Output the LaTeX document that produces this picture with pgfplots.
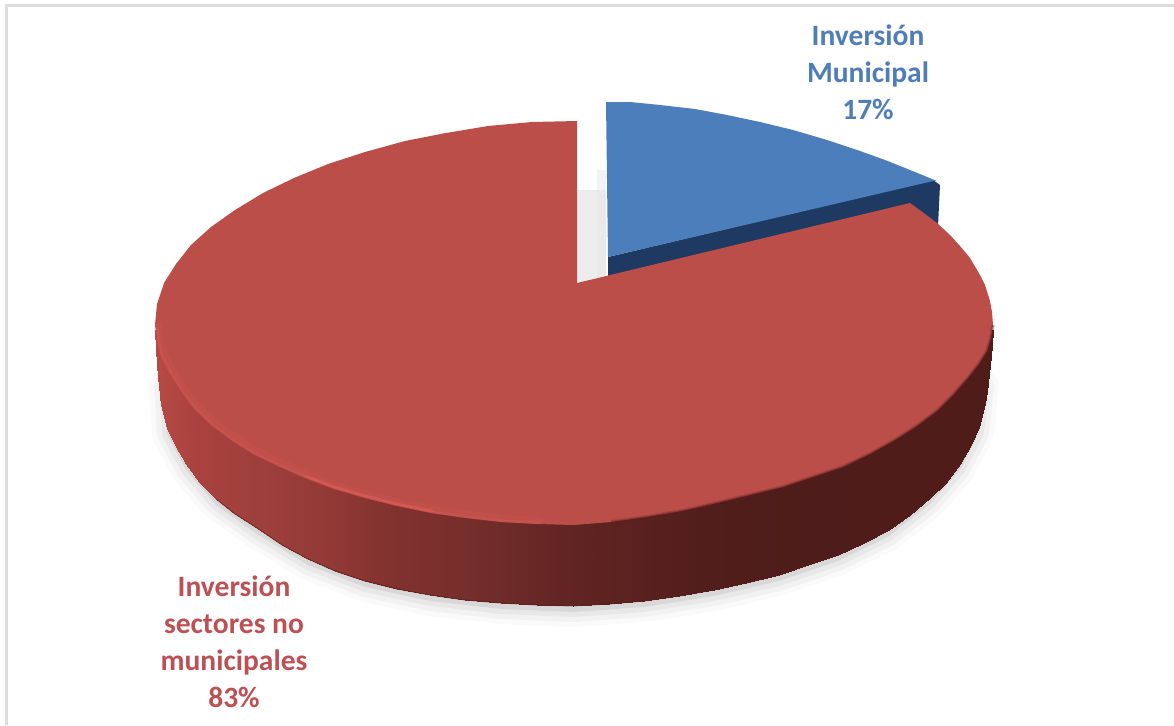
\documentclass[border=0pt]{standalone}
\usepackage{fontspec}
\setmainfont{Carlito}
\usepackage{pgfplots}
\pgfplotsset{compat=1.18}

\definecolor{redtop}{RGB}{188,78,73}
\definecolor{redtxt}{RGB}{190,80,84}
\definecolor{bluetop}{RGB}{76,126,187}
\definecolor{bluetxt}{RGB}{79,125,185}
\definecolor{blueside}{RGB}{31,58,98}
\definecolor{frame}{RGB}{221,221,221}
\definecolor{glow}{RGB}{232,98,92}
\definecolor{edgedark}{RGB}{90,30,28}

\pgfplotsset{colormap={wall}{
  rgb255(155pt)=(184,74,69) rgb255(197pt)=(168,66,62) rgb255(263pt)=(158,63,59)
  rgb255(330pt)=(146,57,54) rgb255(397pt)=(128,49,46) rgb255(463pt)=(118,47,44)
  rgb255(563pt)=(98,37,35) rgb255(700pt)=(82,30,28) rgb255(800pt)=(78,28,26)
  rgb255(993pt)=(80,28,26)}}

\begin{document}
\begin{tikzpicture}
\begin{axis}[
  scale only axis, width=1174pt, height=725pt,
  xmin=0, xmax=1174, ymin=0, ymax=725, y dir=reverse,
  hide axis, clip=true,
  point meta min=155, point meta max=993,
]

% keeps the whole axis area in the picture
\addplot[draw=none, forget plot] coordinates {(0,0)(1174,725)};

% frame, left and top only
\addplot[frame, line width=3pt, forget plot] coordinates {(6,725)(6,6)(1174,6)};

% soft shadow below the disc
\addplot[black!30, fill=black!30, opacity=0.07, line width=30pt, line join=round, shift={(0pt,-6pt)}] coordinates {(164,380)(167,428)(186,464)(216,499)(257,528)(308,559)(365,581)(430,595)(501,603)(573,606)(644,601)(714,590)(779,575)(838,555)(889,530)(930,498)(960,464)(979,427)(984,380)} -- cycle;
\addplot[black!30, fill=black!30, opacity=0.10, line width=20pt, line join=round, shift={(0pt,-6pt)}] coordinates {(164,380)(167,428)(186,464)(216,499)(257,528)(308,559)(365,581)(430,595)(501,603)(573,606)(644,601)(714,590)(779,575)(838,555)(889,530)(930,498)(960,464)(979,427)(984,380)} -- cycle;
\addplot[black!30, fill=black!30, opacity=0.16, line width=10pt, line join=round, shift={(0pt,-6pt)}] coordinates {(164,380)(167,428)(186,464)(216,499)(257,528)(308,559)(365,581)(430,595)(501,603)(573,606)(644,601)(714,590)(779,575)(838,555)(889,530)(930,498)(960,464)(979,427)(984,380)} -- cycle;

% shadow in the gap between the slices
\addplot[draw=none, fill=black!10, opacity=0.45] coordinates {(597,170)(606,170)(606,275)(597,278)} -- cycle;
\addplot[draw=none, fill=black!10, opacity=0.7] coordinates {(577,190)(606,190)(606,275)(577,284)} -- cycle;

% blue slice
\addplot[draw=none, fill=blueside] coordinates {(608,257)(933,180)(940,185)(938,226)(910,215)(608,280)} -- cycle;
\addplot[draw=none, fill=bluetop] coordinates {(606,102)(630,102)(660,105)(695,109)(727,115)(760,122)(793,130)(827,140)(860,151)(885,160)(910,170)(937,181)(933,181)(608,257)} -- cycle;

% wall of the red slice, one strip per line, coloured by x
\addplot[patch, patch type=rectangle, shader=interp, colormap name=wall, point meta=x] coordinates {
(155,330)(155,330)(156,350)(156,330)
(156,330)(156,350)(158,377)(158,330)
(158,330)(158,377)(161,405)(161,330)
(161,330)(161,405)(167,428)(167,330)
(167,330)(167,428)(175,445)(175,330)
(175,330)(175,445)(186,464)(186,330)
(186,330)(186,464)(199,482)(199,330)
(199,330)(199,482)(216,499)(216,330)
(216,330)(216,499)(235,514)(235,330)
(235,330)(235,514)(257,528)(257,330)
(257,330)(257,528)(282,545)(282,330)
(282,330)(282,545)(308,559)(308,330)
(308,330)(308,559)(335,571)(335,330)
(335,330)(335,571)(365,581)(365,330)
(365,330)(365,581)(397,589)(397,330)
(397,330)(397,589)(430,595)(430,330)
(430,330)(430,595)(465,600)(465,330)
(465,330)(465,600)(501,603)(501,330)
(501,330)(501,603)(537,605)(537,330)
(537,330)(537,605)(573,606)(573,330)
(573,330)(573,606)(609,604)(609,330)
(609,330)(609,604)(644,601)(644,330)
(644,330)(644,601)(679,596)(679,330)
(679,330)(679,596)(714,590)(714,330)
(714,330)(714,590)(746,583)(746,330)
(746,330)(746,583)(779,575)(779,330)
(779,330)(779,575)(808,565)(808,330)
(808,330)(808,565)(838,555)(838,330)
(838,330)(838,555)(864,543)(864,330)
(864,330)(864,543)(889,530)(889,330)
(889,330)(889,530)(910,515)(910,330)
(910,330)(910,515)(930,498)(930,330)
(930,330)(930,498)(946,483)(946,330)
(946,330)(946,483)(960,464)(960,330)
(960,330)(960,464)(971,445)(971,330)
(971,330)(971,445)(979,427)(979,330)
(979,330)(979,427)(984,408)(984,330)
(984,330)(984,408)(987,392)(987,330)
(987,330)(987,392)(990,365)(990,330)
(990,330)(990,365)(992,345)(992,330)
(992,330)(992,345)(993,330)(993,330)
};

% thin dark lower edge
\addplot[edgedark, line width=1pt, opacity=0.6] coordinates {(216,499)(235,514)(257,528)(282,545)(308,559)(335,571)(365,581)(397,589)(430,595)(465,600)(501,603)(537,605)(573,606)(609,604)(644,601)(679,596)(714,590)(746,583)(779,575)(808,565)(838,555)(864,543)(889,530)(910,515)(930,498)(946,483)(960,464)};

% top of the red slice
\addplot[draw=none, fill=redtop] coordinates {
(577,283)(577,121)(532,122)(488,126)(446,133)(405,141)(365,152)(328,164)(294,178)(263,193)(235,210)(211,227)(191,245)(176,264)(164,283)(157,304)(155,325)
(157,340)(161,357)(169,372)(180,390)(194,409)(211,425)(231,440)(253,454)(278,466)(305,478)(334,489)(365,498)(397,506)(431,513)(466,518)(501,522)(538,524)(574,525)
(611,522)(647,517)(682,511)(717,503)(750,495)(783,487)(813,477)(843,467)(870,454)(895,440)(917,426)(937,411)(954,394)(968,378)(979,364)(987,351)(991,338)(993,325)
(992,312)(990,301)(985,285)(980,275)(970,258)(960,246)(950,235)(937,223)(925,214)(910,203)} -- cycle;

% light rim on the left, dark blur on the right
\addplot[glow, line width=6pt, opacity=0.12, line cap=round] coordinates {(159,325)(160,339)(164,354)(172,369)(183,386)(197,405)(214,421)(234,436)(256,450)(281,462)(307,474)(336,485)(367,494)(399,502)(433,509)(468,514)(503,518)(540,520)};
\addplot[glow, line width=2.5pt, opacity=0.22, line cap=round] coordinates {(157,325)(158,339)(162,356)(170,371)(181,389)(195,408)(212,424)(232,439)(254,453)(279,465)(306,477)(335,488)(366,497)(398,505)(432,512)(467,517)(502,521)(539,523)};
\addplot[glow, line width=2.5pt, opacity=0.45, line cap=round] coordinates {(306,476)(335,487)(366,496)(398,504)(432,511)};
\addplot[edgedark, line width=4pt, opacity=0.2] coordinates {(611,522)(647,517)(682,511)(717,503)(750,495)(783,487)(813,477)(843,467)(870,454)(895,440)(917,426)(937,411)(954,394)(968,378)(979,364)(987,351)(991,338)(993,325)};
\addplot[edgedark, line width=2pt, opacity=0.35] coordinates {(611,522)(647,517)(682,511)(717,503)(750,495)(783,487)(813,477)(843,467)(870,454)(895,440)(917,426)(937,411)(954,394)(968,378)(979,364)(987,351)(991,338)(993,325)};

\node[font=\fontsize{29.5}{37}\selectfont\bfseries, text=bluetxt, align=center] at (axis cs:868,72) {Inversión\\Municipal\\17\%};
\node[font=\fontsize{29.5}{37}\selectfont\bfseries, text=redtxt, align=center] at (axis cs:234,642) {Inversión\\sectores no\\municipales\\83\%};
\end{axis}
\end{tikzpicture}
\end{document}
